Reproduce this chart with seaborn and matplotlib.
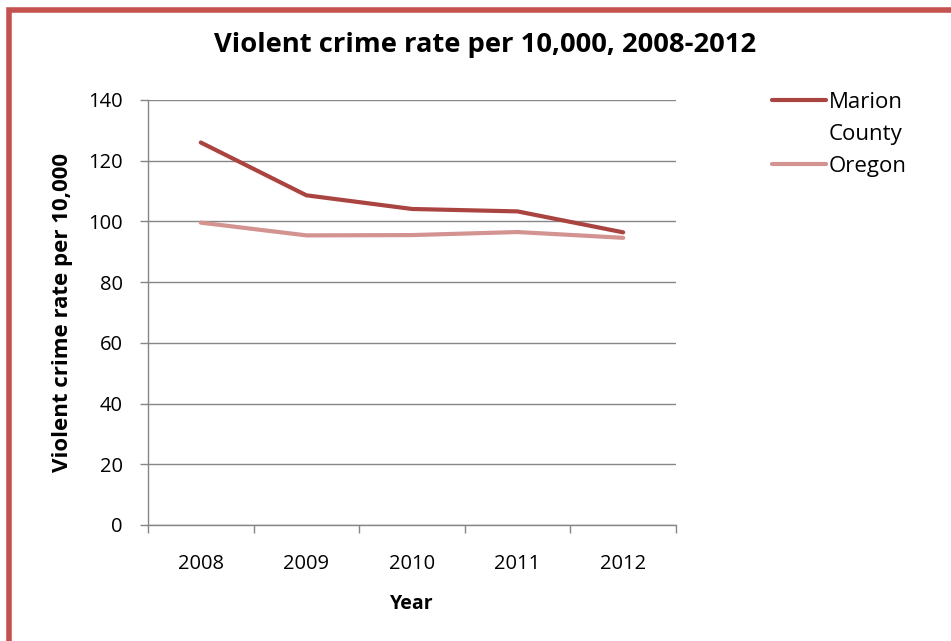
import pandas as pd
import seaborn as sns
import matplotlib.pyplot as plt
from matplotlib.lines import Line2D
from matplotlib.patches import Rectangle

# ---- data ----
years = ["2008", "2009", "2010", "2011", "2012"]
marion = [126.0, 108.6, 104.1, 103.3, 96.4]
oregon = [99.6, 95.4, 95.5, 96.5, 94.6]

df = pd.DataFrame({
    "pos": list(range(len(years))) * 2,
    "rate": marion + oregon,
    "area": ["Marion County"] * len(years) + ["Oregon"] * len(years),
})

sns.set_theme(style="white")
plt.rcParams["font.family"] = ["Open Sans", "DejaVu Sans"]
plt.rcParams["text.color"] = "black"
plt.rcParams["axes.labelcolor"] = "black"
plt.rcParams["xtick.labelcolor"] = "black"
plt.rcParams["ytick.labelcolor"] = "black"

fig = plt.figure(figsize=(9.51, 6.41), dpi=100)
ax = fig.add_axes([0.1556, 0.181, 0.5552, 0.663])

pal = {"Marion County": "#AA4441", "Oregon": "#D29391"}
sns.lineplot(data=df, x="pos", y="rate", hue="area", palette=pal,
             linewidth=3.0, legend=False, ax=ax)

# axes look
ax.set_ylim(0, 140)
ax.set_yticks(range(0, 141, 20))
ax.set_xlim(-0.5, len(years) - 0.5)
ax.set_xticks([i - 0.5 for i in range(len(years) + 1)])
ax.set_xticklabels([])
ax.set_xticks(range(len(years)), minor=True)
ax.set_xticklabels(years, minor=True)
ax.tick_params(axis="x", which="major", length=6, width=1, color="#868686", direction="out", bottom=True)
ax.tick_params(axis="x", which="minor", length=0, pad=21, labelsize=14.5)
ax.tick_params(axis="y", length=6, width=1, color="#868686", direction="out", left=True, labelsize=14.5, pad=12)
ax.yaxis.grid(True, color="#868686", linewidth=1)
ax.set_axisbelow(True)
for s in ["top", "right"]:
    ax.spines[s].set_visible(False)
for s in ["left", "bottom"]:
    ax.spines[s].set_color("#868686")
    ax.spines[s].set_linewidth(1)

ax.set_xlabel("Year", fontsize=14, fontweight="bold", labelpad=14)
ax.set_ylabel("Violent crime rate per 10,000", fontsize=16, fontweight="bold", labelpad=11)
fig.text(0.51, 0.93, "Violent crime rate per 10,000, 2008-2012",
         ha="center", va="center", fontsize=19.7, fontweight="bold")

# legend (label wraps onto a second line)
handles = [Line2D([], [], color=pal["Marion County"], lw=3.0),
           Line2D([], [], color="none"),
           Line2D([], [], color=pal["Oregon"], lw=3.0)]
ax.legend(handles, ["Marion", "County", "Oregon"], loc="upper left",
          bbox_to_anchor=(1.144, 1.067), frameon=False, fontsize=16,
          handlelength=2.45, handletextpad=0.1, labelspacing=0.5)

# red frame around the chart
fig.patches.append(Rectangle((0.009, -0.1), 1.2, 1.085, transform=fig.transFigure,
                             fill=False, edgecolor="#C4524F", linewidth=4))

fig.savefig("out.png", dpi=100)
